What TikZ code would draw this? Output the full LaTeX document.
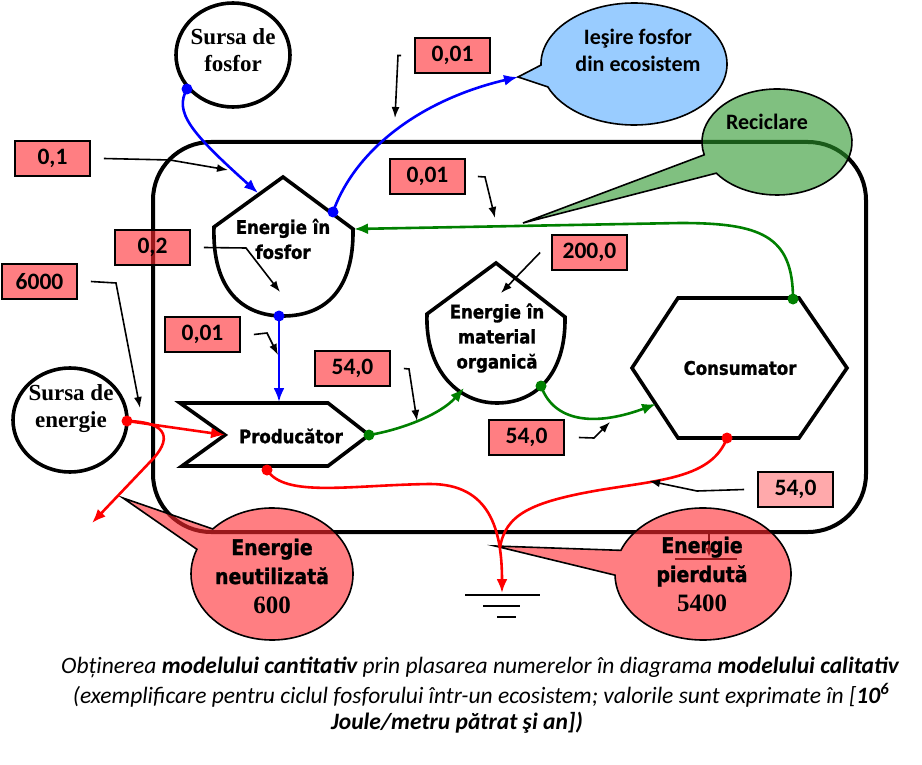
\documentclass[tikz,border=0pt]{standalone}
\usepackage{fontspec}
\setmainfont{Liberation Serif}
\newfontfamily\tahfnt{DejaVu Sans}[FakeStretch=0.88,BoldFeatures={FakeBold=1.2}]
\newfontfamily\calfnt{Carlito}
\usetikzlibrary{arrows.meta,calc}
\definecolor{boxred}{RGB}{255,40,46}
\definecolor{callblue}{RGB}{153,204,255}
\definecolor{callgreen}{RGB}{43,150,43}
\definecolor{arrgreen}{RGB}{0,128,0}
\begin{document}
\begin{tikzpicture}[x=1pt,y=-1pt,
  shp/.style={draw=black,line width=3.6pt,line join=miter,fill=white},
  numbox/.style={draw=black,line width=1.8pt,fill=boxred,fill opacity=0.6,text opacity=1,minimum width=75pt,minimum height=35pt,inner sep=0pt,font=\calfnt\bfseries\fontsize{23.5}{26}\selectfont},
  lightbox/.style={numbox,fill opacity=0.4},
  lead/.style={draw=black,line width=1.6pt,-{Latex[length=11pt,width=8pt]}},
  bflow/.style={draw=blue,line width=2.6pt,-{Latex[length=14pt,width=11pt]}},
  gflow/.style={draw=arrgreen,line width=2.6pt,-{Latex[length=14pt,width=11pt]}},
  rflow/.style={draw=red,line width=2.6pt,-{Latex[length=14pt,width=11pt]}},
  rline/.style={draw=red,line width=2.6pt},
  callout/.style={draw=black,line width=1.6pt},
  shtext/.style={align=center,inner sep=0pt,font=\tahfnt\bfseries\fontsize{18.8}{25}\selectfont},
  bigtext/.style={align=center,inner sep=0pt,font=\tahfnt\bfseries\fontsize{21.5}{29}\selectfont},
  caltext/.style={align=center,inner sep=0pt,font=\calfnt\bfseries\fontsize{22}{27}\selectfont},
  sertext/.style={align=center,inner sep=0pt,font=\bfseries\fontsize{23}{27}\selectfont},
  captext/.style={inner sep=0pt,font=\calfnt\itshape\fontsize{23.5}{27}\selectfont}
]
\useasboundingbox (0,0) rectangle (922,765);

% ecosystem frame
\draw[line width=4pt,rounded corners=58pt] (153,142) rectangle (866,532);

% hidden ground fragment under the callout
\coordinate (hg1) at (709,533);
\coordinate (hg2) at (709,557);
\coordinate (hg3) at (675,559);
\coordinate (hg4) at (737,559);
\draw[line width=2.5pt,-{Latex[length=9pt,width=7pt]}] (hg1) -- (hg2);
\draw[line width=2.5pt] (hg3) -- (hg4);

% callouts
\coordinate (cn) at (272,574);
\coordinate (cnt) at (123,498);
\fill[boxred,fill opacity=0.6] (cnt) -- ($(cn)+(223:81 and 66)$) arc[start angle=223,end angle=562,x radius=81,y radius=66] -- cycle;
\draw[callout] (cnt) -- ($(cn)+(223:81 and 66)$) arc[start angle=223,end angle=562,x radius=81,y radius=66] -- cycle;

\coordinate (cp) at (703,574);
\coordinate (cpt) at (495,546);
\fill[boxred,fill opacity=0.6] (cpt) -- ($(cp)+(201:88 and 66)$) arc[start angle=201,end angle=539,x radius=88,y radius=66] -- cycle;
\draw[callout] (cpt) -- ($(cp)+(201:88 and 66)$) arc[start angle=201,end angle=539,x radius=88,y radius=66] -- cycle;

\coordinate (ci) at (634,64);
\coordinate (cit) at (518,77);
\draw[callout,fill=callblue] (cit) -- ($(ci)+(179:93 and 61)$) arc[start angle=179,end angle=518,x radius=93,y radius=61] -- cycle;

\coordinate (cr) at (777,142);
\coordinate (crt) at (523,223);
\fill[callgreen,fill opacity=0.6] (crt) -- ($(cr)+(166:75 and 53)$) arc[start angle=166,end angle=504,x radius=75,y radius=53] -- cycle;
\draw[callout] (crt) -- ($(cr)+(166:75 and 53)$) arc[start angle=166,end angle=504,x radius=75,y radius=53] -- cycle;

\node[caltext] (tiesire) at (638,50.5) {Ieşire fosfor\\din ecosistem};
\node[caltext] (trecic) at (767,122) {Reciclare};
\node[bigtext] (tneut) at (272,576) {Energie\\neutilizată\\{\rmfamily\fontsize{25}{29}\selectfont 600}};
\node[bigtext] (tpierd) at (702,574) {Energie\\pierdută\\{\rmfamily\fontsize{25}{29}\selectfont 5400}};

% source circles
\draw[line width=3.6pt,fill=white] (233,55) ellipse[x radius=57,y radius=52];
\node[sertext] (sfosfor) at (233,50) {Sursa de\\fosfor};
\draw[line width=3.6pt,fill=white] (70,420) ellipse[x radius=57,y radius=52];
\node[sertext] (senerg) at (71,409) {Sursa de\\energie};

% shapes
\draw[shp] (283,177) -- (353,229) .. controls (354,290) and (325,316) .. (283,316) .. controls (243,316) and (212,290) .. (214,227) -- cycle;
\node[shtext] (tfosfor) at (283,239) {Energie în\\fosfor};
\draw[shp] (496,263) -- (565,317) .. controls (566,375) and (535,403) .. (497,403) .. controls (458,403) and (425,370) .. (427,314) -- cycle;
\node[shtext] (tmat) at (497,338) {Energie în\\material\\organică};
\draw[shp] (180,403) -- (328,403) -- (369,435) -- (328,466) -- (182,466) -- (225,435) -- cycle;
\node[shtext] (tprod) at (291,436) {Producător};
\draw[shp] (678,298) -- (799,298) -- (847,368) -- (799,438) -- (678,438) -- (632,368) -- cycle;
\node[shtext] (tcons) at (740,368) {Consumator};

% connection points
\coordinate (sfdot) at (187,89);
\coordinate (efin) at (258,193);
\coordinate (efout) at (333,212);
\coordinate (efbot) at (279,316);
\coordinate (prtop) at (279,402);
\coordinate (prdot) at (369,435);
\coordinate (moin) at (464,388);
\coordinate (modot) at (541,386);
\coordinate (coin) at (656,404);
\coordinate (cotop) at (793,299);
\coordinate (efright) at (354,229);
\coordinate (sedot) at (127,421);
\coordinate (prnotch) at (225,435);
\coordinate (waste) at (92,523);
\coordinate (prbot) at (267,470);
\coordinate (gnd) at (502,593);
\coordinate (cobot) at (727,438);
\coordinate (merge) at (500,548);

% blue flows
\draw[bflow] (sfdot) .. controls (174,112) and (190,132) .. (efin);
\draw[bflow] (efout) .. controls (355,150) and (420,100) .. (cit);
\draw[bflow] (efbot) -- (prtop);
% green flows
\draw[gflow] (prdot) .. controls (400,430) and (440,415) .. (moin);
\draw[gflow] (modot) .. controls (555,425) and (600,425) .. (coin);
\draw[gflow] (cotop) .. controls (793,235) and (760,223) .. (680,223) -- (efright);
% red flows
\draw[rflow] (sedot) -- (prnotch);
\draw[rflow] (sedot) .. controls (170,422) and (172,440) .. (150,462) -- (waste);
\draw[rflow] (prbot) .. controls (285,498) and (350,485) .. (430,484) .. controls (490,484) and (502,530) .. (gnd);
\draw[rline] (cobot) .. controls (712,478) and (660,480) .. (600,490) .. controls (530,502) and (505,515) .. (merge);

% dots
\fill[blue] (sfdot) circle[radius=5.5pt];
\fill[blue] (efout) circle[radius=5.5pt];
\fill[blue] (efbot) circle[radius=5.5pt];
\fill[arrgreen] (prdot) circle[radius=5.5pt];
\fill[arrgreen] (modot) circle[radius=5.5pt];
\fill[arrgreen] (cotop) circle[radius=5.5pt];
\fill[red] (sedot) circle[radius=5.5pt];
\fill[red] (prbot) circle[radius=5.5pt];
\fill[red] (cobot) circle[radius=5.5pt];

% ground
\coordinate (g1a) at (465,595); \coordinate (g1b) at (540,595);
\coordinate (g2a) at (483,606); \coordinate (g2b) at (520,606);
\coordinate (g3a) at (497,617); \coordinate (g3b) at (516,617);
\draw[line width=2.5pt] (g1a) -- (g1b);
\draw[line width=2.5pt] (g2a) -- (g2b);
\draw[line width=2.5pt] (g3a) -- (g3b);

% number boxes
\node[numbox] (n1) at (452.5,55.5) {0,01};
\node[numbox] (n2) at (52.5,158.5) {0,1};
\node[numbox] (n3) at (427.5,176.5) {0,01};
\node[numbox] (n4) at (152.5,247.5) {0,2};
\node[numbox] (n5) at (589.5,252.5) {200,0};
\node[numbox] (n6) at (39.5,281.5) {6000};
\node[numbox] (n7) at (202.5,334.5) {0,01};
\node[numbox] (n8) at (352.5,368.5) {54,0};
\node[numbox] (n9) at (526.5,437.5) {54,0};
\node[lightbox] (n10) at (795.5,489.5) {54,0};

% leaders
\draw[lead] ([xshift=-13pt]n1.west) -- (398,55.5) -- (395,118);
\draw[lead] ([xshift=13pt]n2.east) -- (170,160) -- (228,170);
\draw[lead] ([xshift=12pt]n3.east) -- (485,177) -- (495,218);
\draw[lead] ([xshift=13pt]n4.east) -- (246,248) -- (280,292);
\draw[lead] ([xshift=-11pt]n5.west) -- (501,293);
\draw[lead] ([xshift=13pt]n6.east) -- (116,283) -- (140,408);
\draw[lead] ([xshift=13pt]n7.east) -- (267,333) -- (278,355);
\draw[lead] ([xshift=13pt]n8.east) -- (409,369) -- (417,421);
\draw[lead] ([xshift=14pt]n9.east) -- (594,438) -- (610,422);
\draw[lead] ([xshift=-13pt]n10.west) -- (697,491) -- (649,481);

% caption
\node[captext] (cap1) at (480,667) {Obținerea \textbf{modelului cantitativ} prin plasarea numerelor în diagrama \textbf{modelului calitativ}};
\node[captext] (cap2) at (481,695) {(exemplificare pentru ciclul fosforului într-un ecosistem; valorile sunt exprimate în [\textbf{10\textsuperscript{6}}};
\node[captext] (cap3) at (457,723) {\textbf{Joule/metru pătrat şi an])}};
\end{tikzpicture}
\end{document}
